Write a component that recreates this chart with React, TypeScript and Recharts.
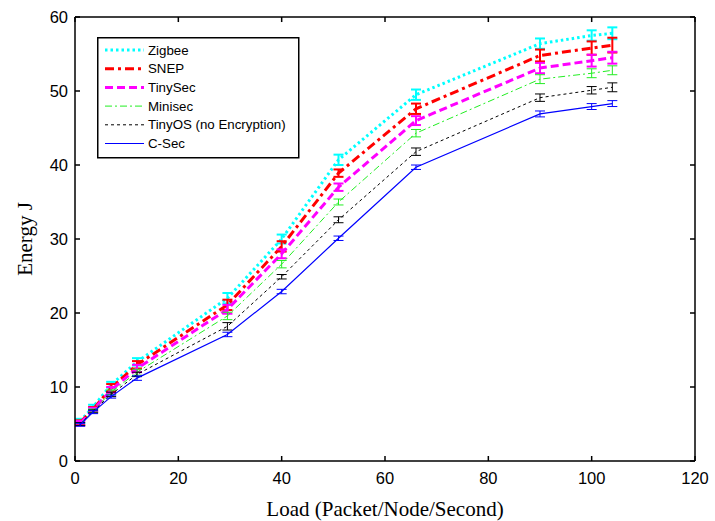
import { LineChart, Line, XAxis, YAxis, ErrorBar, Legend, ReferenceLine } from "recharts";

// load values (packet/node/second)
const loads = [1, 3.5, 7, 12, 29.5, 40, 51, 66, 90, 100, 104];

// mean energy (J) per protocol
const zigbee = [5.4, 7.3, 10.3, 13.4, 22.0, 30.0, 40.7, 49.5, 56.4, 57.5, 57.8];
const snep = [5.2, 7.0, 9.9, 13.0, 21.1, 29.0, 38.9, 47.6, 54.8, 55.8, 56.2];
const tinySec = [5.1, 6.9, 9.6, 12.5, 20.5, 28.0, 37.0, 46.0, 53.1, 54.1, 54.5];
const minisec = [5.0, 6.8, 9.3, 12.0, 19.6, 26.6, 35.0, 44.3, 51.6, 52.4, 52.8];
const tinyOs = [5.0, 6.7, 9.0, 11.7, 18.2, 24.9, 32.6, 41.8, 49.1, 50.1, 50.5];
const cSec = [4.9, 6.6, 8.7, 11.2, 17.1, 22.9, 30.1, 39.7, 46.9, 47.9, 48.3];

// error bar half-heights
const zigbeeErr = [0.3, 0.3, 0.4, 0.5, 0.7, 0.6, 0.7, 0.7, 0.7, 0.7, 0.8];
const snepErr = [0.3, 0.3, 0.5, 0.5, 0.7, 0.7, 0.5, 0.7, 0.8, 0.9, 1.0];
const tinySecErr = [0.3, 0.3, 0.4, 0.5, 0.6, 0.6, 0.5, 0.6, 0.7, 0.8, 0.8];
const minisecErr = [0.2, 0.2, 0.3, 0.4, 0.5, 0.5, 0.4, 0.5, 0.6, 0.6, 0.6];
const tinyOsErr = [0.2, 0.2, 0.3, 0.3, 0.5, 0.3, 0.4, 0.5, 0.5, 0.5, 0.6];
const cSecErr = [0.2, 0.2, 0.2, 0.3, 0.3, 0.3, 0.3, 0.3, 0.4, 0.4, 0.4];

const xTicks = [0, 20, 40, 60, 80, 100, 120];
const yTicks = [0, 10, 20, 30, 40, 50, 60];
const xMax = 120;
const yMax = 60;

const data = loads.map((load, i) => ({
  load,
  zigbee: zigbee[i],
  zigbeeErr: zigbeeErr[i],
  snep: snep[i],
  snepErr: snepErr[i],
  tinySec: tinySec[i],
  tinySecErr: tinySecErr[i],
  minisec: minisec[i],
  minisecErr: minisecErr[i],
  tinyOs: tinyOs[i],
  tinyOsErr: tinyOsErr[i],
  cSec: cSec[i],
  cSecErr: cSecErr[i],
}));

const series = [
  { key: "zigbee", name: "Zigbee", color: "#00ffff", width: 3, dash: "2.5 3" },
  { key: "snep", name: "SNEP", color: "#ff0000", width: 3, dash: "9 4 3 4" },
  { key: "tinySec", name: "TinySec", color: "#ff00ff", width: 3, dash: "8 4" },
  { key: "minisec", name: "Minisec", color: "#22ee22", width: 1, dash: "7 3 2 3" },
  { key: "tinyOs", name: "TinyOS (no Encryption)", color: "#000000", width: 1, dash: "3 3" },
  { key: "cSec", name: "C-Sec", color: "#0000ff", width: 1.2, dash: undefined },
];

const tickStyle = { fontSize: 16.5, fill: "#000", fontFamily: "'Liberation Sans', Arial, sans-serif" };
const titleStyle = { fontSize: 21, fill: "#000", fontFamily: "'Liberation Serif', 'Times New Roman', serif" };

function LegendBox() {
  return (
    <svg width={203} height={122} style={{ display: "block" }}>
      <rect x={0.75} y={0.75} width={201} height={120} fill="#fff" stroke="#000" strokeWidth={1.5} />
      {series.map((s, i) => {
        const y = 13 + i * 18.7;
        return (
          <g key={s.key}>
            <line x1={8} x2={47} y1={y} y2={y} stroke={s.color} strokeWidth={s.width} strokeDasharray={s.dash} />
            <text x={51} y={y + 4.5} fontSize={13.3} fontFamily="'Liberation Sans', Arial, sans-serif" fill="#000">
              {s.name}
            </text>
          </g>
        );
      })}
    </svg>
  );
}

export default function App() {
  return (
    <div style={{ position: "absolute", left: 0, top: 0, background: "#fff" }}>
      <LineChart width={715} height={521} data={data} margin={{ top: 17, right: 20, left: 0, bottom: 0 }}>
        <XAxis
          dataKey="load"
          type="number"
          domain={[0, xMax]}
          ticks={xTicks}
          height={60}
          stroke="#000"
          strokeWidth={1.5}
          tickSize={-5}
          tickMargin={16}
          tick={tickStyle}
          label={{ value: "Load (Packet/Node/Second)", position: "insideBottom", offset: 5, style: titleStyle }}
        />
        <YAxis
          type="number"
          domain={[0, yMax]}
          ticks={yTicks}
          width={75}
          stroke="#000"
          strokeWidth={1.5}
          tickSize={-5}
          tickMargin={12}
          tick={tickStyle}
          label={{ value: "Energy J", angle: -90, position: "insideLeft", offset: 25, style: { ...titleStyle, textAnchor: "middle" } }}
        />
        {/* frame: top and right edges with inward ticks */}
        <ReferenceLine y={yMax} stroke="#000" strokeWidth={1.5} />
        <ReferenceLine x={xMax} stroke="#000" strokeWidth={1.5} />
        {xTicks.map((t) => (
          <ReferenceLine
            key={`tx${t}`}
            segment={[{ x: t, y: yMax }, { x: t, y: yMax - 0.68 }]}
            stroke="#000"
            strokeWidth={1.5}
          />
        ))}
        {yTicks.map((t) => (
          <ReferenceLine
            key={`ty${t}`}
            segment={[{ x: xMax, y: t }, { x: xMax - 0.97, y: t }]}
            stroke="#000"
            strokeWidth={1.5}
          />
        ))}
        <Legend
          layout="vertical"
          align="center"
          verticalAlign="middle"
          content={() => <LegendBox />}
          wrapperStyle={{ left: 97, top: 37, width: 203, height: 122 }}
        />
        {series.map((s) => (
          <Line
            key={s.key}
            dataKey={s.key}
            name={s.name}
            stroke={s.color}
            strokeWidth={s.width}
            strokeDasharray={s.dash}
            dot={false}
            activeDot={false}
            isAnimationActive={false}
          >
            <ErrorBar
              dataKey={`${s.key}Err`}
              direction="y"
              width={5}
              stroke={s.color}
              strokeWidth={s.width >= 3 ? 2 : 1}
              isAnimationActive={false}
            />
          </Line>
        ))}
      </LineChart>
    </div>
  );
}
